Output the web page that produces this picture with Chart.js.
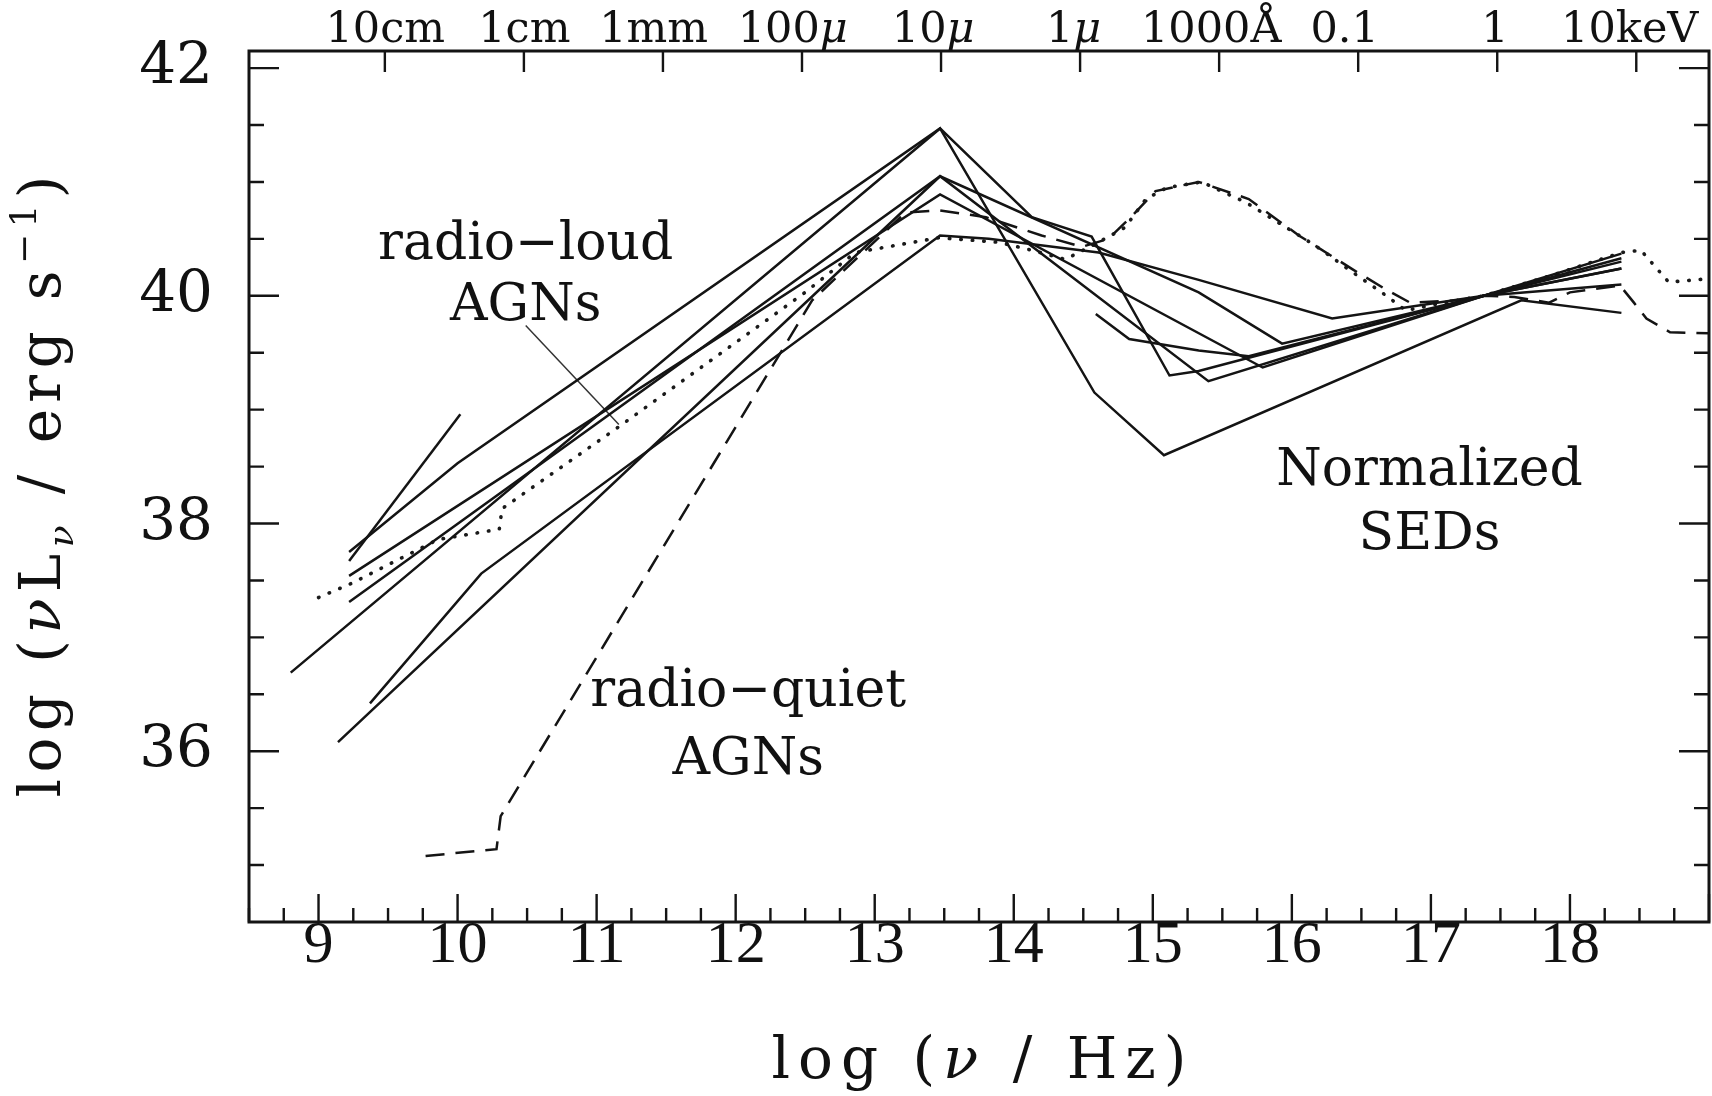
<!DOCTYPE html>
<html>
<head>
<meta charset="utf-8">
<title>Normalized SEDs</title>
<script src="https://cdn.jsdelivr.net/npm/chart.js@4.4.0/dist/chart.umd.min.js"></script>
<style>
  html, body { margin: 0; padding: 0; background: #fff; }
  #wrap { width: 1712px; height: 1096px; }
</style>
</head>
<body>
<div id="wrap"><canvas id="sedChart"></canvas></div>
<script>
// tick values and labels
const xTickValues = [9, 10, 11, 12, 13, 14, 15, 16, 17, 18];
const yTickValues = [36, 38, 40, 42];
const topTickNu = [9.477, 10.477, 11.477, 12.477, 13.477, 14.477, 15.477, 16.477, 17.477, 18.477];
const topLabels = ['10cm', '1cm', '1mm', '100μ', '10μ', '1μ', '1000Å', '0.1', '1', '10keV'];
const topLabelNu = [9.48, 10.48, 11.41, 12.41, 13.42, 14.43, 15.42, 16.38, 17.46, 18.43];

// radio-loud objects (solid lines): log nu and log nuLnu
const rlShortNu = [9.22, 10.02];
const rlShortL = [37.67, 38.96];
const rlANu = [9.22, 10.0, 13.47, 14.13, 14.56, 15.12, 15.33, 17.38, 18.37];
const rlAL = [37.75, 38.53, 41.47, 40.69, 40.52, 39.30, 39.34, 40.0, 40.24];
const rlBNu = [8.80, 13.47, 14.58, 15.08, 17.65, 18.37];
const rlBL = [36.69, 41.47, 39.15, 38.60, 39.96, 39.85];
const rlCNu = [9.14, 13.47, 15.40, 17.38, 18.37];
const rlCL = [36.08, 41.05, 39.25, 40.0, 40.33];
const rlDNu = [9.37, 10.17, 13.47, 13.82, 14.61, 15.33, 16.29, 17.38, 18.37];
const rlDL = [36.42, 37.56, 40.53, 40.50, 40.38, 40.14, 39.80, 40.0, 40.10];
const rlENu = [9.22, 13.47, 15.79, 17.38, 18.37];
const rlEL = [37.54, 40.89, 39.37, 40.0, 40.37];
const rlFNu = [9.22, 13.47, 15.33, 15.93, 17.38, 18.37];
const rlFL = [37.31, 41.05, 40.03, 39.58, 40.0, 40.24];
const rlGNu = [14.59, 14.83, 15.33, 15.69, 17.38, 18.37];
const rlGL = [39.84, 39.62, 39.52, 39.47, 40.0, 40.30];

// mean radio-loud SED (dotted)
const meanLoudNu = [9.0, 9.23, 9.86, 10.30, 10.32, 11.16, 12.5, 12.86, 13.46, 13.89, 14.13, 14.37, 14.61, 14.8, 14.95, 15.1, 15.35, 15.67, 16.17, 16.41, 16.68, 16.82, 17.05, 17.38, 17.87, 18.37, 18.51, 18.71, 19.0];
const meanLoudL = [37.35, 37.47, 37.86, 37.95, 38.13, 38.85, 40.03, 40.38, 40.51, 40.47, 40.40, 40.32, 40.47, 40.6, 40.85, 40.95, 41.0, 40.82, 40.44, 40.23, 40.0, 39.87, 39.93, 40.0, 40.18, 40.38, 40.40, 40.12, 40.15];

// mean radio-quiet SED (dashed)
const meanQuietNu = [9.77, 10.28, 10.31, 12.55, 13.22, 13.47, 13.8, 14.2, 14.49, 14.68, 14.85, 15.02, 15.33, 15.69, 16.05, 16.44, 16.67, 16.85, 17.2, 17.38, 17.6, 17.85, 18.0, 18.36, 18.46, 18.55, 18.72, 19.0];
const meanQuietL = [35.08, 35.14, 35.43, 39.96, 40.73, 40.75, 40.69, 40.53, 40.43, 40.5, 40.70, 40.92, 41.0, 40.85, 40.53, 40.23, 40.06, 39.94, 39.96, 40.0, 39.99, 39.94, 40.03, 40.09, 39.94, 39.8, 39.68, 39.67];

// pointer from the "radio-loud AGNs" label
const pointerNu = [10.49, 11.16];
const pointerL = [39.74, 38.87];

const serif = "'DejaVu Serif', serif";

const toPoints = (nu, L) => nu.map((x, i) => ({ x: x, y: L[i] }));

const solid = (nu, L) => ({
  data: toPoints(nu, L),
  borderColor: '#141414',
  borderWidth: 2.5,
  pointRadius: 0,
  fill: false,
  tension: 0
});

const datasets = [
  solid(rlShortNu, rlShortL),
  solid(rlANu, rlAL),
  solid(rlBNu, rlBL),
  solid(rlCNu, rlCL),
  solid(rlDNu, rlDL),
  solid(rlENu, rlEL),
  solid(rlFNu, rlFL),
  solid(rlGNu, rlGL),
  {
    data: toPoints(meanLoudNu, meanLoudL),
    borderColor: '#1a1a1a',
    borderWidth: 3.6,
    borderDash: [0.5, 11],
    borderCapStyle: 'round',
    pointRadius: 0,
    fill: false
  },
  {
    data: toPoints(meanQuietNu, meanQuietL),
    borderColor: '#141414',
    borderWidth: 2.5,
    borderDash: [19, 11],
    pointRadius: 0,
    fill: false
  },
  {
    data: toPoints(pointerNu, pointerL),
    borderColor: '#333',
    borderWidth: 1.5,
    pointRadius: 0,
    fill: false
  }
];

// text written inside the plot, in data coordinates
const notes = [
  { parts: [{ t: 'radio−loud' }], nu: 10.49, L: 40.32 },
  { parts: [{ t: 'AGNs' }], nu: 10.49, L: 39.79 },
  { parts: [{ t: 'radio−quiet' }], nu: 12.09, L: 36.40 },
  { parts: [{ t: 'AGNs' }], nu: 12.09, L: 35.80 },
  { parts: [{ t: 'Normalized' }], nu: 16.99, L: 38.34 },
  { parts: [{ t: 'SEDs' }], nu: 16.99, L: 37.78 }
];

// draws a run of text parts char by char, with optional extra spacing
function drawRich(ctx, parts, x, y, size, width) {
  const fontOf = p => (p.italic ? 'italic ' : '') + ((p.sub || p.sup) ? Math.round(size * 0.62) : size) + 'px ' + serif;
  let natural = 0;
  let count = 0;
  parts.forEach(p => {
    ctx.font = fontOf(p);
    natural += ctx.measureText(p.t).width;
    count += [...p.t].length;
  });
  const gap = width ? (width - natural) / Math.max(1, count - 1) : 0;
  let cx = x - (natural + gap * (count - 1)) / 2;
  parts.forEach(p => {
    ctx.font = fontOf(p);
    const dy = p.sub ? size * 0.22 : (p.sup ? -size * 0.42 : 0);
    [...p.t].forEach(ch => {
      ctx.fillText(ch, cx, y + dy);
      cx += ctx.measureText(ch).width + gap;
    });
  });
}

const framePlugin = {
  id: 'frame',
  afterDatasetsDraw(chart) {
    const ctx = chart.ctx;
    const area = chart.chartArea;
    const xs = chart.scales.x;
    const ys = chart.scales.y;
    ctx.save();
    ctx.strokeStyle = '#141414';
    ctx.fillStyle = '#111';
    ctx.lineCap = 'butt';

    // tick marks, pointing into the plot
    ctx.lineWidth = 2.4;
    ctx.beginPath();
    for (let v = 8.5; v <= 19.001; v += 0.25) {
      const px = xs.getPixelForValue(v);
      const len = Math.abs(v - Math.round(v)) < 0.01 ? 28 : 14;
      ctx.moveTo(px, area.bottom);
      ctx.lineTo(px, area.bottom - len);
    }
    for (let v = 35; v <= 42.01; v += 0.5) {
      const py = ys.getPixelForValue(v);
      const len = Math.abs(v / 2 - Math.round(v / 2)) < 0.01 ? 30 : 15;
      ctx.moveTo(area.left, py);
      ctx.lineTo(area.left + len, py);
      ctx.moveTo(area.right, py);
      ctx.lineTo(area.right - len, py);
    }
    topTickNu.forEach(v => {
      const px = xs.getPixelForValue(v);
      ctx.moveTo(px, area.top);
      ctx.lineTo(px, area.top + 21);
    });
    ctx.stroke();

    // frame
    ctx.lineWidth = 3;
    ctx.strokeRect(area.left, area.top, area.right - area.left, area.bottom - area.top);

    // top wavelength / energy labels
    ctx.textBaseline = 'alphabetic';
    topLabels.forEach((lab, i) => {
      const px = xs.getPixelForValue(topLabelNu[i]);
      const parts = lab.endsWith('μ')
        ? [{ t: lab.slice(0, -1) }, { t: 'μ', italic: true }]
        : [{ t: lab }];
      drawRich(ctx, parts, px, 42, 43);
    });

    // notes inside the plot
    notes.forEach(n => {
      drawRich(ctx, n.parts, xs.getPixelForValue(n.nu), ys.getPixelForValue(n.L), 52);
    });

    // axis titles
    drawRich(ctx, [{ t: 'log (' }, { t: 'ν', italic: true }, { t: ' / Hz)' }],
      (area.left + area.right) / 2, 1078, 58, 415);

    ctx.translate(60, (area.top + area.bottom) / 2);
    ctx.rotate(-Math.PI / 2);
    drawRich(ctx, [
      { t: 'log (' }, { t: 'ν', italic: true }, { t: 'L' }, { t: 'ν', italic: true, sub: true },
      { t: ' / erg s' }, { t: '−1', sup: true }, { t: ')' }
    ], 0, 0, 58, 622);
    ctx.restore();
  }
};

new Chart(document.getElementById('sedChart'), {
  type: 'line',
  data: { datasets: datasets },
  options: {
    responsive: true,
    maintainAspectRatio: false,
    devicePixelRatio: 1,
    animation: false,
    events: [],
    layout: { padding: { top: 51, right: 3, left: 0, bottom: 0 } },
    plugins: { legend: { display: false }, tooltip: { enabled: false } },
    scales: {
      x: {
        type: 'linear',
        min: 8.5,
        max: 19,
        afterBuildTicks: s => { s.ticks = xTickValues.map(v => ({ value: v })); },
        afterFit: s => { s.height = 174; s.paddingLeft = 0; s.paddingRight = 0; },
        grid: { display: false, drawTicks: false },
        border: { display: false },
        ticks: {
          autoSkip: false,
          maxRotation: 0,
          padding: -12,
          color: '#111',
          font: { family: "'Liberation Serif', serif", size: 60 }
        }
      },
      y: {
        type: 'linear',
        min: 34.5,
        max: 42.15,
        afterBuildTicks: s => { s.ticks = yTickValues.map(v => ({ value: v })); },
        afterFit: s => { s.width = 249; s.paddingTop = 0; s.paddingBottom = 0; },
        grid: { display: false, drawTicks: false },
        border: { display: false },
        ticks: {
          padding: 36,
          color: '#111',
          font: { family: serif, size: 58 }
        }
      }
    }
  },
  plugins: [framePlugin]
});
</script>
</body>
</html>
